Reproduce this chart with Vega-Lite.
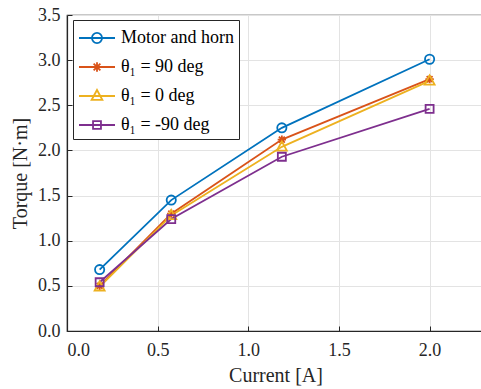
{
  "$schema": "https://vega.github.io/schema/vega-lite/v6.json",
  "width": 417,
  "height": 316,
  "autosize": {"type": "none"},
  "padding": {"left": 67, "top": 15, "right": 0, "bottom": 58},
  "background": "white",
  "config": {
    "view": {"stroke": "#262626", "strokeWidth": 1.2},
    "font": "Liberation Serif",
    "axis": {
      "labelFont": "Liberation Serif",
      "titleFont": "Liberation Serif",
      "labelFontSize": 18,
      "titleFontSize": 20,
      "titleFontWeight": "normal",
      "labelColor": "#262626",
      "titleColor": "#262626",
      "domainColor": "#262626",
      "domainWidth": 1.2,
      "tickColor": "#262626",
      "gridColor": "#e3e3e3",
      "gridWidth": 1
    },
    "legend": {"labelFont": "Liberation Serif"}
  },
  "data": {
    "values": [
      {"series": "Motor and horn", "current": 0.18, "torque": 0.68},
      {"series": "Motor and horn", "current": 0.575, "torque": 1.45},
      {"series": "Motor and horn", "current": 1.185, "torque": 2.25},
      {"series": "Motor and horn", "current": 2.0, "torque": 3.01},
      {"series": "θ₁ = 90 deg", "current": 0.18, "torque": 0.5},
      {"series": "θ₁ = 90 deg", "current": 0.575, "torque": 1.3},
      {"series": "θ₁ = 90 deg", "current": 1.185, "torque": 2.12},
      {"series": "θ₁ = 90 deg", "current": 2.0, "torque": 2.79},
      {"series": "θ₁ = 0 deg", "current": 0.18, "torque": 0.49},
      {"series": "θ₁ = 0 deg", "current": 0.575, "torque": 1.28},
      {"series": "θ₁ = 0 deg", "current": 1.185, "torque": 2.04},
      {"series": "θ₁ = 0 deg", "current": 2.0, "torque": 2.77},
      {"series": "θ₁ = -90 deg", "current": 0.18, "torque": 0.54},
      {"series": "θ₁ = -90 deg", "current": 0.575, "torque": 1.24},
      {"series": "θ₁ = -90 deg", "current": 1.185, "torque": 1.93},
      {"series": "θ₁ = -90 deg", "current": 2.0, "torque": 2.46}
    ]
  },
  "encoding": {
    "x": {
      "field": "current", "type": "quantitative",
      "scale": {"domain": [0, 2.3], "nice": false},
      "axis": {"orient": "bottom", "values": [0, 0.5, 1, 1.5, 2], "format": ".1f", "title": "Current [A]", "tickSize": -5, "labelPadding": 15, "titlePadding": 6}
    },
    "y": {
      "field": "torque", "type": "quantitative",
      "scale": {"domain": [0, 3.5], "nice": false},
      "axis": {"orient": "left", "values": [0, 0.5, 1, 1.5, 2, 2.5, 3, 3.5], "format": ".1f", "title": "Torque [N·m]", "tickSize": -5, "labelPadding": 12, "titlePadding": 7}
    },
    "color": {
      "field": "series", "type": "nominal",
      "scale": {"domain": ["Motor and horn", "θ₁ = 90 deg", "θ₁ = 0 deg", "θ₁ = -90 deg"], "range": ["#0072BD", "#D95319", "#EDB120", "#7E2F8E"]},
      "legend": {
        "orient": "none", "legendX": 6, "legendY": 5, "title": null,
        "strokeColor": "#262626", "fillColor": "white", "padding": 5,
        "labelFont": "Liberation Serif", "labelFontSize": 18, "labelColor": "#000000",
        "labelOffset": 17, "rowPadding": 7, "symbolSize": 576, "symbolStrokeWidth": 1.8,
        "symbolFillColor": "transparent"
      }
    }
  },
  "layer": [
    {
      "mark": {"type": "line", "strokeWidth": 1.8},
      "encoding": {"order": {"field": "current", "type": "quantitative"}}
    },
    {
      "transform": [{"filter": "datum.series === 'Motor and horn'"}],
      "mark": {"type": "point", "shape": "circle", "filled": false, "strokeWidth": 1.8, "opacity": 1, "size": 85}
    },
    {
      "transform": [{"filter": "datum.series === 'θ₁ = 90 deg'"}],
      "mark": {"type": "point", "shape": "M0,-1V1M-1,0H1M-0.7,-0.7L0.7,0.7M-0.7,0.7L0.7,-0.7", "filled": false, "strokeWidth": 1.8, "opacity": 1, "size": 70}
    },
    {
      "transform": [{"filter": "datum.series === 'θ₁ = 0 deg'"}],
      "mark": {"type": "point", "shape": "M0,-1.1L1,0.75H-1Z", "filled": false, "strokeWidth": 1.8, "opacity": 1, "size": 100}
    },
    {
      "transform": [{"filter": "datum.series === 'θ₁ = -90 deg'"}],
      "mark": {"type": "point", "shape": "M-0.8,-0.8H0.8V0.8H-0.8Z", "filled": false, "strokeWidth": 1.8, "opacity": 1, "size": 100}
    },
    {
      "transform": [{"filter": "false"}],
      "mark": {"type": "point", "filled": false, "strokeWidth": 1.8, "opacity": 1},
      "encoding": {
        "shape": {
          "field": "series", "type": "nominal",
          "scale": {"domain": ["Motor and horn", "θ₁ = 90 deg", "θ₁ = 0 deg", "θ₁ = -90 deg"], "range": [
            "M-1,0H2M0.92,0A0.42,0.42 0 1 1 0.08,0A0.42,0.42 0 1 1 0.92,0",
            "M-1,0H2M0.5,-0.4V0.4M0.1,0H0.9M0.22,-0.28L0.78,0.28M0.22,0.28L0.78,-0.28",
            "M-1,0H2M0.5,-0.5L0.95,0.33H0.05Z",
            "M-1,0H2M0.17,-0.33H0.83V0.33H0.17Z"
          ]},
          "legend": {
            "orient": "none", "legendX": 6, "legendY": 5, "title": null,
            "strokeColor": "#262626", "fillColor": "white", "padding": 5,
            "labelFont": "Liberation Serif", "labelFontSize": 18, "labelColor": "#000000",
            "labelOffset": 17, "rowPadding": 7, "symbolSize": 576, "symbolStrokeWidth": 1.8,
            "symbolFillColor": "transparent"
          }
        }
      }
    }
  ]
}
